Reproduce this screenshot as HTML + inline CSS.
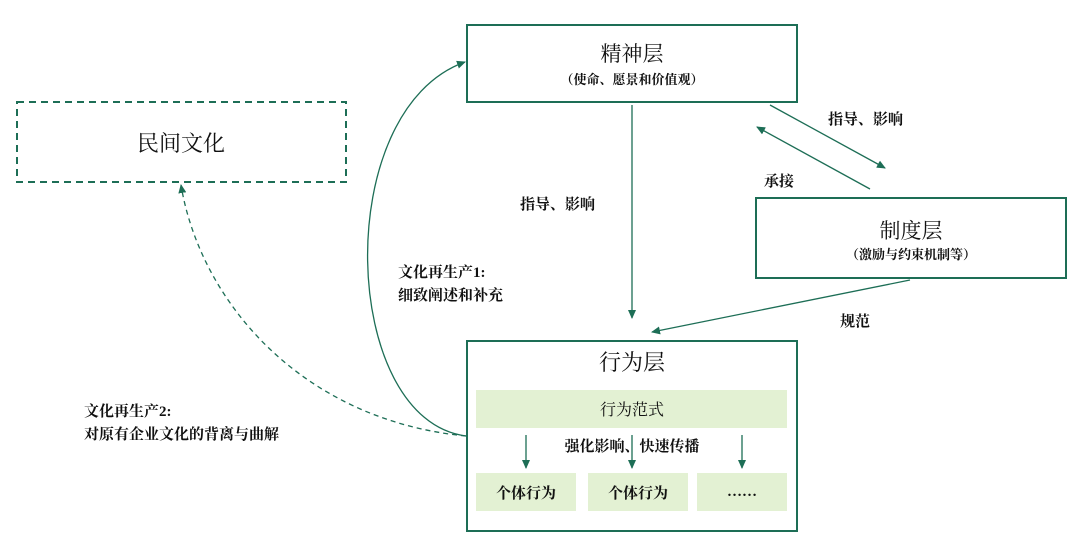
<!DOCTYPE html>
<html><head><meta charset="utf-8"><style>
body{margin:0;background:#fff;}
svg text{font-family:"Liberation Serif","Noto Serif CJK SC",serif;fill:#111;}
.b{font-weight:bold;font-size:15px;}
</style></head><body>
<svg width="1080" height="543" viewBox="0 0 1080 543" xmlns="http://www.w3.org/2000/svg">
<defs>
<marker id="a" markerWidth="10" markerHeight="10" refX="8" refY="5" orient="auto" markerUnits="userSpaceOnUse"><path d="M0,1 L9,5 L0,9 z" fill="#1d6e56"/></marker>
</defs>
<g fill="none" stroke="#1d6e56" stroke-width="2">
<rect x="467" y="25" width="330" height="77"/>
<rect x="17" y="102" width="329" height="80" stroke-dasharray="7,5"/>
<rect x="756" y="198" width="310" height="80"/>
<rect x="467" y="341" width="330" height="190"/>
</g>
<rect x="476" y="390" width="311" height="38" fill="#e3f1d3"/>
<rect x="476" y="473" width="100" height="38" fill="#e3f1d3"/>
<rect x="588" y="473" width="100" height="38" fill="#e3f1d3"/>
<rect x="697" y="473" width="90" height="38" fill="#e3f1d3"/>
<g stroke="#1d6e56" stroke-width="1.3" fill="none" marker-end="url(#a)">
<line x1="632" y1="105" x2="632" y2="318"/>
<line x1="770" y1="105" x2="885" y2="168"/>
<line x1="870" y1="189" x2="757" y2="127"/>
<line x1="910" y1="280" x2="652" y2="332"/>
<line x1="526" y1="435" x2="526" y2="468"/>
<line x1="632" y1="435" x2="632" y2="468"/>
<line x1="742" y1="435" x2="742" y2="468"/>
<path d="M466,436 C340,420 330,110 465,62"/>
<path d="M466,436 C300,420 200,300 181,185" stroke-dasharray="5,4"/>
</g>
<text x="632" y="61" font-size="21" text-anchor="middle">精神层</text>
<text x="632" y="84" font-size="13" font-weight="bold" text-anchor="middle">（使命、愿景和价值观）</text>
<text x="181" y="151" font-size="22" text-anchor="middle">民间文化</text>
<text x="911" y="238" font-size="21" text-anchor="middle">制度层</text>
<text x="911" y="259" font-size="13" font-weight="bold" text-anchor="middle">（激励与约束机制等）</text>
<text x="632" y="370" font-size="22" text-anchor="middle">行为层</text>
<text x="632" y="415" font-size="16" text-anchor="middle">行为范式</text>
<text x="632" y="451" class="b" font-size="16" text-anchor="middle">强化影响、快速传播</text>
<text x="526" y="498" class="b" font-size="16" text-anchor="middle">个体行为</text>
<text x="638" y="498" class="b" font-size="16" text-anchor="middle">个体行为</text>
<text x="742" y="496" class="b" text-anchor="middle">……</text>
<text x="520" y="209" class="b">指导、影响</text>
<text x="828" y="124" class="b">指导、影响</text>
<text x="764" y="186" class="b">承接</text>
<text x="840" y="326" class="b">规范</text>
<text x="398" y="277" class="b">文化再生产1:</text>
<text x="398" y="300" class="b">细致阐述和补充</text>
<text x="84" y="416" class="b">文化再生产2:</text>
<text x="84" y="439" class="b">对原有企业文化的背离与曲解</text>
</svg>
</body></html>
